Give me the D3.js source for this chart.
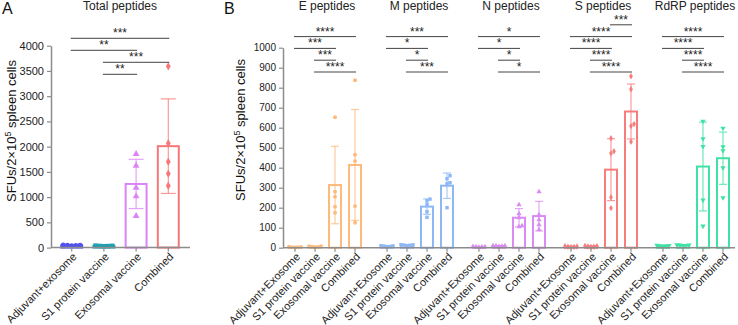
<!DOCTYPE html>
<html>
<head>
<meta charset="utf-8">
<script src="https://cdn.jsdelivr.net/npm/d3@7"></script>
<style>
  body { margin: 0; background: #fff; }
  text { font-family: "Liberation Sans", Arial, sans-serif; }
</style>
</head>
<body>
<div id="content"></div>
<script>
// categories
var categoriesA = ["Adjuvant+exosome", "S1 protein vaccine", "Exosomal vaccine", "Combined"]
var categoriesB = ["Adjuvant+Exosome", "S1 protein vaccine", "Exosomal vaccine", "Combined"]
var peptideGroups = ["E peptides", "M peptides", "N peptides", "S peptides", "RdRP peptides"]

// per-mouse values (5 mice per group), one list per category
var totalValues = [[45, 52, 40, 48, 38], [30, 36, 28, 40, 33], [1854, 1622, 1187, 1016, 626], [3591, 2066, 1702, 1464, 1226]]
var eValues = [[2, 4, 3, 1, 5], [3, 7, 5, 2, 8], [652, 280, 255, 205, 175], [837, 465, 433, 208, 125]]
var mValues = [[6, 10, 8, 5, 9], [12, 15, 10, 14, 13], [243, 235, 217, 180, 152], [360, 345, 325, 320, 200]]
var nValues = [[4, 6, 3, 5, 2], [6, 10, 8, 7, 9], [215, 170, 150, 110, 105], [280, 165, 140, 115, 90]]
var sValues = [[5, 7, 4, 6, 3], [6, 9, 5, 7, 4], [547, 482, 472, 252, 198], [857, 792, 618, 608, 530]]
var rdrpValues = [[8, 12, 10, 7, 11], [11, 15, 13, 10, 14], [632, 545, 506, 238, 108], [597, 505, 485, 400, 250]]
var peptideValues = [eValues, mValues, nValues, sValues, rdrpValues]

// tick labels
var ticksA = [0, 500, 1000, 1500, 2000, 2500, 3000, 3500, 4000]
var ticksB = [0, 100, 200, 300, 400, 500, 600, 700, 800, 900, 1000]

// significance brackets: [from category, to category, label], top to bottom
var sigTotal = [[0, 3, "***"], [0, 2, "**"], [1, 3, "***"], [1, 2, "**"]]
var sigE = [[0, 3, "****"], [0, 2, "***"], [1, 2, "***"], [1, 3, "****"]]
var sigM = [[0, 3, "***"], [0, 2, "*"], [1, 2, "*"], [1, 3, "***"]]
var sigN = [[0, 3, "*"], [0, 2, "*"], [1, 2, "*"], [1, 3, "*"]]
var sigS = [[2, 3, "***"], [0, 3, "****"], [0, 2, "****"], [1, 2, "****"], [1, 3, "****"]]
var sigRdRP = [[0, 3, "****"], [0, 2, "****"], [1, 2, "****"], [1, 3, "****"]]
var peptideSig = [sigE, sigM, sigN, sigS, sigRdRP]

// colours
var colorsA = ["#5151ee", "#1f9fb1", "#da84f6", "#f77878"]
var colorsB = ["#fdba7a", "#8db8f5", "#d98bf3", "#f77c7c", "#3fe2a4"]
var symbolsA = [d3.symbolCircle, d3.symbolSquare, d3.symbolTriangle, d3.symbolDiamond]
var symbolsB = [d3.symbolCircle, d3.symbolSquare, d3.symbolTriangle, d3.symbolDiamond, "down"]

var svg = d3.select("#content").append("svg")
  .attr("width", 738)
  .attr("height", 325)

var axisColor = "#8c8c8c"

// place dots side by side when they would overlap (like a Prism scatter)
layoutDots = function(values, yScale, r, step) {
  var placed = []
  var offsets = []
  var order = values.map(function(v, i) { return i }).sort(function(a, b) { return values[a] - values[b] })
  order.forEach(function(i) {
    var y = yScale(values[i])
    for (var k = 0; k < 20; k++) {
      var off = (k % 2 == 1 ? 1 : -1) * Math.ceil(k / 2) * step
      var clash = placed.some(function(p) { return Math.abs(p.x - off) < step * 0.9 && Math.abs(p.y - y) < 2 * r })
      if (!clash) { placed.push({x: off, y: y}); offsets[i] = off; break }
    }
  })
  return offsets
}

// draw one bar with SD error bar and dots
drawBar = function(values, cx, bw, yScale, color, symbolType, props) {
  var mean = d3.mean(values)
  var sd = d3.deviation(values)
  svg.append("rect")
    .attr("x", cx - bw / 2)
    .attr("y", yScale(mean))
    .attr("width", bw)
    .attr("height", yScale(0) - yScale(mean))
    .attr("fill", "none")
    .attr("stroke", color)
    .attr("stroke-width", props.barStroke)

  var g = svg.append("g").attr("stroke", color).attr("stroke-opacity", 0.75).attr("stroke-width", 1.2)
  g.append("line").attr("x1", cx).attr("x2", cx).attr("y1", yScale(mean - sd)).attr("y2", yScale(mean + sd))
  g.append("line").attr("x1", cx - props.cap / 2).attr("x2", cx + props.cap / 2).attr("y1", yScale(mean - sd)).attr("y2", yScale(mean - sd))
  g.append("line").attr("x1", cx - props.cap / 2).attr("x2", cx + props.cap / 2).attr("y1", yScale(mean + sd)).attr("y2", yScale(mean + sd))

  var offsets = layoutDots(values, yScale, props.r, props.step)
  var down = symbolType == "down"
  var sym = d3.symbol().type(down ? d3.symbolTriangle : symbolType).size(props.size)
  for (var i = 0; i < values.length; i++) {
    svg.append("path")
      .attr("d", sym())
      .attr("transform", "translate(" + (cx + offsets[i]) + "," + yScale(values[i]) + ")" + (down ? " rotate(180)" : ""))
      .attr("fill", color)
  }
}

// brackets with stars above the bars
drawSig = function(sigList, xPos, baseY, spacing) {
  var n = sigList.length
  for (var i = 0; i < n; i++) {
    var s = sigList[i]
    var y = baseY - (n - 1 - i) * spacing
    var x1 = xPos(s[0]) - 1, x2 = xPos(s[1]) + 1
    svg.append("line")
      .attr("x1", x1).attr("x2", x2)
      .attr("y1", y).attr("y2", y)
      .attr("stroke", "#444")
      .attr("stroke-width", 1)
    svg.append("text")
      .attr("x", (x1 + x2) / 2)
      .attr("y", y - 1)
      .attr("text-anchor", "middle")
      .attr("fill", "#222")
      .style("font-size", "12px")
      .text(s[2])
  }
}

yLabel = function(x, y) {
  var t = svg.append("text")
    .attr("transform", "translate(" + x + "," + y + ") rotate(-90)")
    .attr("text-anchor", "middle")
    .attr("fill", "#111")
    .style("font-size", "13px")
  t.append("tspan").text("SFUs/2×10")
  t.append("tspan").attr("dy", -5).style("font-size", "9px").text("5")
  t.append("tspan").attr("dy", 5).text(" spleen cells")
}

styleAxis = function(g) {
  g.selectAll(".domain").attr("stroke", axisColor).attr("stroke-width", 1.5)
  g.selectAll(".tick line").attr("stroke", axisColor).attr("stroke-width", 1.2)
  g.selectAll(".tick text").attr("fill", "#222")
}

xLabels = function(g) {
  g.select(".domain").remove()
  g.selectAll(".tick text")
    .attr("x", 0).attr("y", 0)
    .attr("dy", "0.35em")
    .attr("text-anchor", "end")
    .attr("transform", "translate(3,7) rotate(-45)")
    .style("font-size", "11px")
}

// ---------------- panel A ----------------
var xA = d3.scaleBand().domain(categoriesA).range([55.6, 184.4]).paddingInner(0.35).paddingOuter(0.175)
var yA = d3.scaleLinear().domain([0, 4000]).range([247.6, 45.7])
var cxA = function(i) { return xA(categoriesA[i]) + xA.bandwidth() / 2 }

for (var i = 0; i < categoriesA.length; i++) {
  drawBar(totalValues[i], cxA(i), xA.bandwidth(), yA, colorsA[i], symbolsA[i],
    {barStroke: 2, cap: 15, r: 2.2, step: 4.2, size: 20})
}

var gyA = svg.append("g").attr("transform", "translate(51,0)")
  .call(d3.axisLeft(yA).tickValues(ticksA).tickFormat(d3.format("d")).tickSize(4).tickSizeOuter(0).tickPadding(3))
gyA.style("font-size", "11px")
styleAxis(gyA)

svg.append("line").attr("x1", 51).attr("x2", 190).attr("y1", yA(0)).attr("y2", yA(0))
  .attr("stroke", axisColor).attr("stroke-width", 1.5)
var gxA = svg.append("g").attr("transform", "translate(0," + yA(0) + ")")
  .call(d3.axisBottom(xA).tickSize(4).tickSizeOuter(0))
styleAxis(gxA)
xLabels(gxA)

drawSig(sigTotal, cxA, 74.3, 12)
yLabel(16, 131)

svg.append("text").attr("x", 120).attr("y", 10).attr("text-anchor", "middle")
  .style("font-size", "12px").attr("fill", "#222").text("Total peptides")
svg.append("text").attr("x", 2).attr("y", 14).style("font-size", "16px").attr("fill", "#111").text("A")

// ---------------- panel B ----------------
var xGroup = d3.scaleBand().domain(peptideGroups).range([285, 733]).paddingInner(0.13)
var xInner = d3.scaleBand().domain(categoriesB).range([0, xGroup.bandwidth()]).paddingInner(0.4).paddingOuter(0.2)
var yB = d3.scaleLinear().domain([0, 1000]).range([247.7, 47.7])

peptideGroups.forEach(function(grp, gi) {
  var gx = xGroup(grp)
  var cx = function(i) { return gx + xInner(categoriesB[i]) + xInner.bandwidth() / 2 }
  for (var i = 0; i < categoriesB.length; i++) {
    drawBar(peptideValues[gi][i], cx(i), xInner.bandwidth(), yB, colorsB[gi], symbolsB[gi],
      {barStroke: 2, cap: 8, r: 1.7, step: 3, size: 12})
  }
  drawSig(peptideSig[gi], cx, 72, 11.8)

  svg.append("text").attr("x", gx + xGroup.bandwidth() / 2 + 2).attr("y", 10).attr("text-anchor", "middle")
    .style("font-size", "12px").attr("fill", "#222").text(grp)

  var gxB = svg.append("g").attr("transform", "translate(" + gx + "," + yB(0) + ")")
    .call(d3.axisBottom(xInner).tickSize(4).tickSizeOuter(0))
  styleAxis(gxB)
  xLabels(gxB)
})

var gyB = svg.append("g").attr("transform", "translate(283,0)")
  .call(d3.axisLeft(yB).tickValues(ticksB).tickFormat(d3.format("d")).tickSize(4).tickSizeOuter(0).tickPadding(3))
gyB.style("font-size", "10px")
styleAxis(gyB)

svg.append("line").attr("x1", 283).attr("x2", 735).attr("y1", yB(0)).attr("y2", yB(0))
  .attr("stroke", axisColor).attr("stroke-width", 1.5)

yLabel(245, 130)
svg.append("text").attr("x", 224).attr("y", 14).style("font-size", "16px").attr("fill", "#111").text("B")
</script>
</body>
</html>
